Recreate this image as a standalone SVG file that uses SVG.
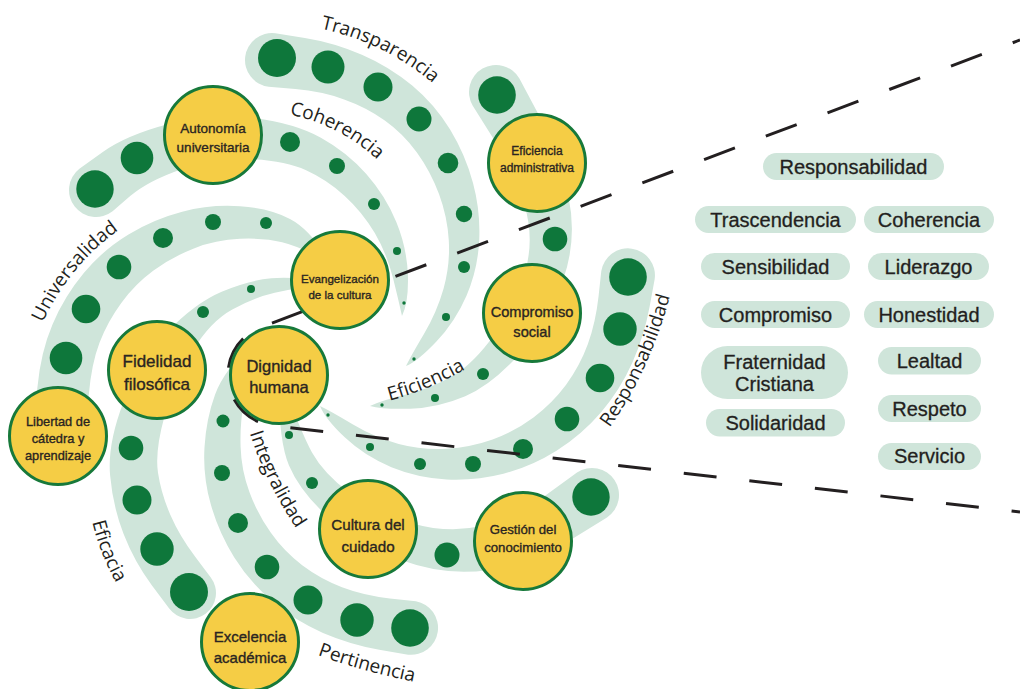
<svg xmlns="http://www.w3.org/2000/svg" width="1020" height="689" viewBox="0 0 1020 689">
<defs>
<style>
.band{fill:#cfe5da}
.dot{fill:#0e773b}
.node circle{fill:#f5cd45;stroke:#17793a;stroke-width:3}
.nt{font-family:"Liberation Sans",Arial,sans-serif;fill:#2a2522;stroke:#2a2522;stroke-width:0.35;text-anchor:middle}
.lbl{font-family:"Open Sans","Noto Sans",sans-serif;font-size:19px;fill:#231f20;text-anchor:middle}
.pill rect{fill:#cfe5da}
.pt{font-family:"Liberation Sans",Arial,sans-serif;font-size:20px;fill:#231f20;stroke:#231f20;stroke-width:0.3;text-anchor:middle}
.dash{fill:none;stroke:#231f20;stroke-width:3;stroke-dasharray:33 33;stroke-dashoffset:25.2}
</style>
<path id="pTrans" d="M318,28 Q385,42 435,85"/>
<path id="pCoh" d="M286,114 Q340,124 380,162"/>
<path id="pUni" d="M38,333 Q68,262 128,224"/>
<path id="pEfa" d="M88,500 Q96,555 128,602"/>
<path id="pInt" d="M246,420 Q262,480 304,540"/>
<path id="pPer" d="M312,653 Q360,671 420,683"/>
<path id="pRes" d="M600,440 Q650,378 674,281"/>
<path id="pEfi" d="M380,403 Q428,392 474,364"/>
</defs>
<rect width="1020" height="689" fill="#ffffff"/>

<g id="bands">
<path class="band" d="M275.3,33.2 A27,27 0 0 0 268.7,86.8 L295.3,89.1 Q321.8,91.4 344.1,99.4 Q366.4,107.3 384.8,120.4 Q403.2,133.5 416.9,152.4 Q430.6,171.3 439,194 Q447.4,216.6 448.8,240.6 Q450.2,264.6 443.6,288.4 Q436.9,312.1 423.8,334.2 Q410.7,356.3 406,366 Q417.3,361.7 436.2,341.8 Q455.1,321.9 466.5,295.7 Q477.8,269.4 479.2,240.4 Q480.6,211.4 473,183.1 Q465.4,154.7 450.1,129.6 Q434.8,104.5 412.2,85.6 Q389.6,66.7 361.9,54.7 Q334.2,42.6 304.8,37.9 L275.3,33.2 Z"/>
<path class="band" d="M79.4,168.7 A27,27 0 0 0 112.6,211.3 L130.2,196.1 Q147.8,180.9 181.6,169.2 Q215.3,157.4 250.3,159.1 Q285.3,160.8 306.1,170.3 Q326.9,179.7 344.7,195.9 Q362.5,212.1 374.8,233.1 Q387,254 393.2,278.7 Q399.3,303.4 402,316 Q408.7,302.6 407.9,275.3 Q407,248 396.3,222 Q385.5,195.9 366.3,174.1 Q347.1,152.3 320.9,137.8 Q294.7,123.2 252.7,117.9 Q210.7,112.6 168.5,123.9 Q126.2,135.1 102.8,151.9 L79.4,168.7 Z"/>
<path class="band" d="M519.4,78.5 A27,27 0 0 0 472.6,105.5 L493.6,138.9 Q514.5,172.2 524.5,205.3 Q534.5,238.3 525.3,271.3 Q516,304.3 494.9,333.9 Q473.7,363.4 452.9,375.8 Q432,388.1 406.8,394.3 Q381.5,400.5 370,406 Q382.5,409.5 410.3,408.7 Q438,407.9 465.2,396.3 Q492.3,384.6 520.2,353.2 Q548,321.7 562.8,280.7 Q577.5,239.7 568.5,196.8 Q559.5,153.8 539.5,116.2 L519.4,78.5 Z"/>
<path class="band" d="M654.7,279 A27,27 0 0 0 601.3,271 L598.5,296.7 Q595.7,322.4 587.8,344.3 Q579.8,366.1 566.1,384.7 Q552.4,403.2 533.5,417.4 Q514.6,431.5 492.6,439.4 Q470.6,447.2 446.5,448.7 Q422.3,450.1 398.7,443.9 Q375,437.6 353,424.5 Q331,411.3 320,406 Q325,418.7 345,437.6 Q365,456.4 391.4,467.2 Q417.7,477.9 446.6,479.4 Q475.4,480.8 503.4,473.7 Q531.4,466.5 556.5,450.7 Q581.6,434.8 600.9,412.4 Q620.2,389.9 632.3,362.8 Q644.3,335.6 649.5,307.3 L654.7,279 Z"/>
<path class="band" d="M607,517.5 A27,27 0 0 0 577,472.5 L545.4,495.5 Q513.7,518.5 481.2,526.1 Q448.7,533.6 412.6,523.4 Q376.4,513.2 350,493.3 Q323.5,473.4 312,452.5 Q300.5,431.6 279,372 Q277.5,438.4 289,465.5 Q300.5,492.6 330.1,518.7 Q359.6,544.8 402.5,560.6 Q445.3,576.4 488.8,570 Q532.3,563.5 569.7,540.5 L607,517.5 Z"/>
<path class="band" d="M408.1,654.7 A27,27 0 0 0 415.9,601.3 L389.8,598.4 Q363.6,595.4 342,587.2 Q320.4,578.9 302.2,565.2 Q284,551.5 270.7,532.6 Q257.4,513.7 249.4,492 Q241.3,470.2 240.6,446.8 Q239.8,423.4 244,401.6 Q248.1,379.8 255,340 Q223.9,370.2 215.1,394.4 Q206.2,418.6 204.5,447.2 Q202.7,475.8 210.7,504.1 Q218.6,532.3 234.3,557.4 Q250,582.5 272.8,601.8 Q295.6,621.1 323,632.9 Q350.4,644.6 379.3,649.7 L408.1,654.7 Z"/>
<path class="band" d="M34.1,422.7 A26,26 0 0 0 85.9,427.3 L88.7,395.5 Q91.4,363.7 99.5,342.7 Q107.6,321.6 121.3,303 Q134.9,284.3 153.5,270.6 Q172.1,256.9 193.9,248.4 Q215.6,239.8 240,238.8 Q264.4,237.8 282.1,242.2 Q299.7,246.5 330,262 Q310.3,229.5 290,218.9 Q269.6,208.2 240,206.2 Q210.4,204.2 182.2,211.7 Q153.9,219.1 128.5,234.4 Q103.1,249.7 83.8,273.1 Q64.4,296.4 52.5,324.4 Q40.6,352.3 37.4,387.5 L34.1,422.7 Z"/>
<path class="band" d="M169.2,608.6 A26,26 0 0 0 210.8,577.4 L195.2,556.8 Q179.6,536.1 170.4,515 Q161.2,493.8 158,472.7 Q154.7,451.6 164.7,415.5 Q174.7,379.4 192.8,350.3 Q210.8,321.1 232.3,309.4 Q253.8,297.6 274.7,292.8 Q295.5,288 330,283 Q294.5,276 271.4,278.3 Q248.2,280.5 221.7,291.7 Q195.2,302.9 167.3,331.8 Q139.3,360.6 123.3,402.5 Q107.3,444.4 110.1,475.3 Q112.8,506.2 123.6,534.1 Q134.4,561.9 151.8,585.3 L169.2,608.6 Z"/>
</g>

<g id="dots">
<circle class="dot" cx="277" cy="58" r="19"/><circle class="dot" cx="328" cy="67" r="16.5"/><circle class="dot" cx="378" cy="87" r="14.5"/><circle class="dot" cx="419" cy="119" r="12.5"/><circle class="dot" cx="448" cy="163" r="10.3"/><circle class="dot" cx="464" cy="214" r="8.2"/><circle class="dot" cx="464" cy="267" r="6"/><circle class="dot" cx="446" cy="317" r="4"/><circle class="dot" cx="414" cy="359" r="1.7"/>
<circle class="dot" cx="95" cy="189" r="18.7"/><circle class="dot" cx="137" cy="158" r="16.3"/><circle class="dot" cx="290" cy="142" r="10"/><circle class="dot" cx="337" cy="166" r="8"/><circle class="dot" cx="374" cy="204" r="6"/><circle class="dot" cx="397" cy="251" r="4"/><circle class="dot" cx="404" cy="303" r="1.7"/>
<circle class="dot" cx="497" cy="95" r="18.8"/><circle class="dot" cx="555" cy="239" r="12.3"/><circle class="dot" cx="483" cy="374" r="6"/><circle class="dot" cx="435" cy="398" r="4"/><circle class="dot" cx="382" cy="405" r="1.7"/>
<circle class="dot" cx="628" cy="277" r="18.8"/><circle class="dot" cx="620" cy="329" r="16.7"/><circle class="dot" cx="600" cy="378" r="14.3"/><circle class="dot" cx="567" cy="419" r="12.3"/><circle class="dot" cx="523" cy="449" r="10"/><circle class="dot" cx="473" cy="464" r="8"/><circle class="dot" cx="420" cy="464" r="6"/><circle class="dot" cx="370" cy="447" r="4"/><circle class="dot" cx="328" cy="415" r="1.7"/>
<circle class="dot" cx="591" cy="497" r="18.7"/><circle class="dot" cx="447" cy="555" r="12.5"/><circle class="dot" cx="312" cy="483" r="6"/><circle class="dot" cx="289" cy="435" r="4"/>
<circle class="dot" cx="410" cy="628" r="18.8"/><circle class="dot" cx="357" cy="620" r="16.7"/><circle class="dot" cx="308" cy="600" r="14.5"/><circle class="dot" cx="267" cy="567" r="12.3"/><circle class="dot" cx="238" cy="523" r="10"/><circle class="dot" cx="222" cy="473" r="8"/><circle class="dot" cx="223" cy="421" r="6.5"/>
<circle class="dot" cx="66" cy="358" r="16.3"/><circle class="dot" cx="86" cy="309" r="14.3"/><circle class="dot" cx="119" cy="267" r="12.3"/><circle class="dot" cx="163" cy="238" r="10"/><circle class="dot" cx="213" cy="222" r="8"/><circle class="dot" cx="266" cy="223" r="6"/>
<circle class="dot" cx="189" cy="592" r="19"/><circle class="dot" cx="157" cy="549" r="16.7"/><circle class="dot" cx="137" cy="500" r="14.5"/><circle class="dot" cx="131" cy="448" r="12.3"/><circle class="dot" cx="203" cy="312" r="6"/><circle class="dot" cx="251" cy="289" r="4"/>
</g>

<g id="labels">
<text class="lbl"><textPath href="#pTrans" startOffset="50%">Transparencia</textPath></text>
<text class="lbl"><textPath href="#pCoh" startOffset="50%">Coherencia</textPath></text>
<text class="lbl"><textPath href="#pUni" startOffset="50%">Universalidad</textPath></text>
<text class="lbl"><textPath href="#pEfa" startOffset="50%">Eficacia</textPath></text>
<text class="lbl"><textPath href="#pInt" startOffset="50%">Integralidad</textPath></text>
<text class="lbl"><textPath href="#pPer" startOffset="50%">Pertinencia</textPath></text>
<text class="lbl"><textPath href="#pRes" startOffset="50%">Responsabilidad</textPath></text>
<text class="lbl"><textPath href="#pEfi" startOffset="50%">Eficiencia</textPath></text>
</g>

<g id="connectors">
<path class="dash" d="M1020,40 L261,327.3 A51,51 0 0 0 273.1,425.7 L1020,512"/>
</g>

<g id="n-autonomia" class="node"><circle cx="213" cy="135" r="48.5"/><text class="nt" font-size="13.5"><tspan x="213" y="132.5">Autonomía</tspan><tspan x="213" y="151.5">universitaria</tspan></text></g>
<g id="n-eficiencia" class="node"><circle cx="537" cy="163" r="48.5"/><text class="nt" font-size="12"><tspan x="537" y="155">Eficiencia</tspan><tspan x="537" y="171.5">administrativa</tspan></text></g>
<g id="n-evangelizacion" class="node"><circle cx="340" cy="280" r="48.5"/><text class="nt" font-size="11.6"><tspan x="340" y="282.5">Evangelización</tspan><tspan x="340" y="299">de la cultura</tspan></text></g>
<g id="n-dignidad" class="node"><circle cx="279" cy="375" r="48.5"/><text class="nt" font-size="16.5"><tspan x="279" y="371.5">Dignidad</tspan><tspan x="279" y="393.3">humana</tspan></text></g>
<g id="n-fidelidad" class="node"><circle cx="157" cy="370" r="48.5"/><text class="nt" font-size="17"><tspan x="157" y="367.3">Fidelidad</tspan><tspan x="157" y="390">filosófica</tspan></text></g>
<g id="n-libertad" class="node"><circle cx="58" cy="436" r="48.5"/><text class="nt" font-size="12.8"><tspan x="58" y="425.7">Libertad de</tspan><tspan x="58" y="442.7">cátedra y</tspan><tspan x="58" y="460">aprendizaje</tspan></text></g>
<g id="n-compromiso" class="node"><circle cx="532" cy="313" r="48.5"/><text class="nt" font-size="14.6"><tspan x="532" y="317.3">Compromiso</tspan><tspan x="532" y="336.7">social</tspan></text></g>
<g id="n-cultura" class="node"><circle cx="368" cy="529" r="48.5"/><text class="nt" font-size="15.2"><tspan x="368" y="530">Cultura del</tspan><tspan x="368" y="551.7">cuidado</tspan></text></g>
<g id="n-gestion" class="node"><circle cx="523" cy="541" r="48.5"/><text class="nt" font-size="13.2"><tspan x="523" y="534">Gestión del</tspan><tspan x="523" y="551.7">conocimiento</tspan></text></g>
<g id="n-excelencia" class="node"><circle cx="250" cy="642" r="48.5"/><text class="nt" font-size="15"><tspan x="250" y="642">Excelencia</tspan><tspan x="250" y="662.7">académica</tspan></text></g>

<g id="p-responsabilidad" class="pill"><rect x="763" y="153" width="181" height="27" rx="13.5"/><text class="pt" x="853.5" y="173.5">Responsabilidad</text></g>
<g id="p-trascendencia" class="pill"><rect x="695" y="206" width="161" height="27" rx="13.5"/><text class="pt" x="775.5" y="226.5">Trascendencia</text></g>
<g id="p-coherencia" class="pill"><rect x="864" y="206" width="130" height="27" rx="13.5"/><text class="pt" x="929" y="226.5">Coherencia</text></g>
<g id="p-sensibilidad" class="pill"><rect x="701" y="253" width="149" height="27" rx="13.5"/><text class="pt" x="775.5" y="273.5">Sensibilidad</text></g>
<g id="p-liderazgo" class="pill"><rect x="868" y="253" width="121" height="27" rx="13.5"/><text class="pt" x="928.5" y="273.5">Liderazgo</text></g>
<g id="p-compromiso" class="pill"><rect x="701" y="301" width="149" height="27" rx="13.5"/><text class="pt" x="775.5" y="321.5">Compromiso</text></g>
<g id="p-honestidad" class="pill"><rect x="864" y="301" width="130" height="27" rx="13.5"/><text class="pt" x="929" y="321.5">Honestidad</text></g>
<g id="p-fraternidad" class="pill"><rect x="701" y="346" width="147" height="53" rx="26.5"/><text class="pt"><tspan x="774.5" y="369.3">Fraternidad</tspan><tspan x="774.5" y="390.7">Cristiana</tspan></text></g>
<g id="p-lealtad" class="pill"><rect x="878" y="347" width="103" height="27.5" rx="13.7"/><text class="pt" x="929.5" y="368">Lealtad</text></g>
<g id="p-solidaridad" class="pill"><rect x="706" y="409" width="139" height="27.5" rx="13.7"/><text class="pt" x="775.5" y="430">Solidaridad</text></g>
<g id="p-respeto" class="pill"><rect x="878" y="395" width="103" height="27" rx="13.5"/><text class="pt" x="929.5" y="415.7">Respeto</text></g>
<g id="p-servicio" class="pill"><rect x="878" y="443" width="103" height="27" rx="13.5"/><text class="pt" x="929.5" y="463.3">Servicio</text></g>
</svg>
